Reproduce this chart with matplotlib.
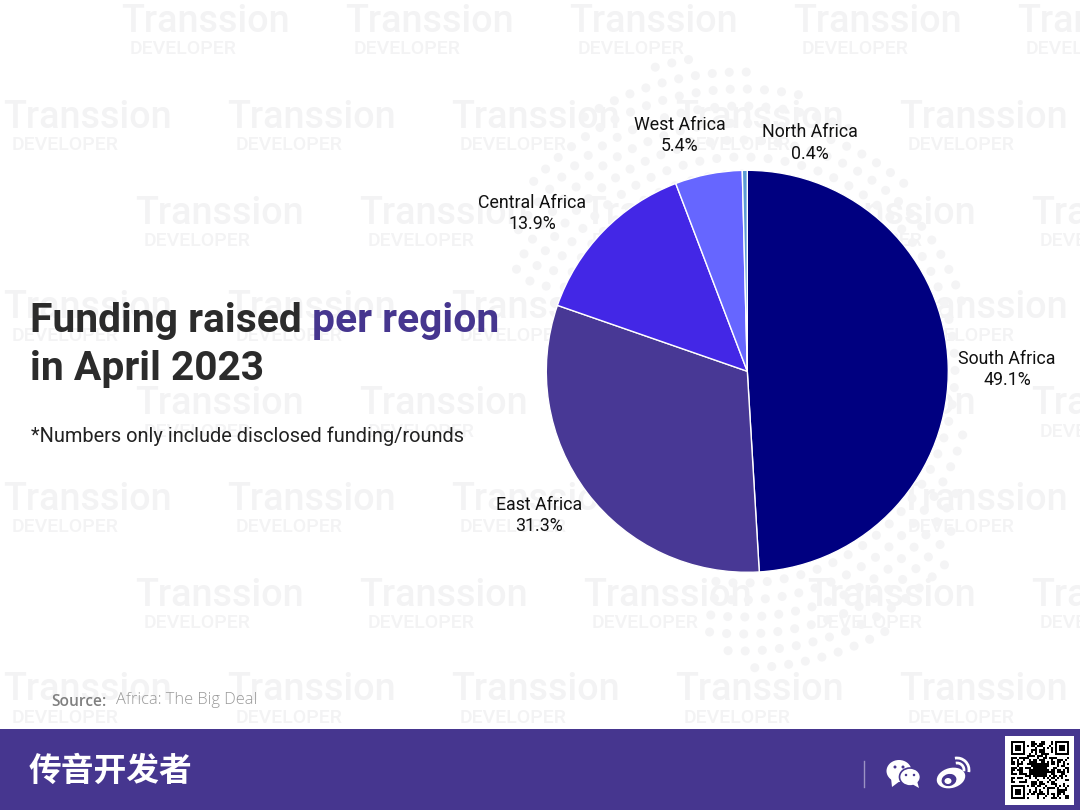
import math
import numpy as np
import matplotlib
matplotlib.use("Agg")
import matplotlib.pyplot as plt
from matplotlib.patches import Rectangle, Ellipse, Polygon, Arc

W, H = 1080, 810
regions = ["South Africa", "East Africa", "Central Africa", "West Africa", "North Africa"]
shares = [49.1, 31.3, 13.9, 5.4, 0.4]
colors = ["#000080", "#483895", "#4327E6", "#6666FF", "#5B9BD5"]
label_xy = [(1007, 368), (539, 514), (532, 212), (680, 134), (810, 141.5)]

purple = "#46368F"
fig = plt.figure(figsize=(W / 100, H / 100), dpi=100, facecolor="white")
bg = fig.add_axes([0, 0, 1, 1])
bg.set_xlim(0, W)
bg.set_ylim(H, 0)
bg.axis("off")

# watermark: grid of logos
wm_rows = [(21, 121), (117, 3), (213, 135), (308, 3), (404, 135), (499, 3), (595, 135), (690, 3)]
for y, x0 in wm_rows:
    for k in range(5):
        x = x0 + 224 * k
        bg.text(x, y, "Transsion", family="Roboto", fontsize=27.2, color="#f3f3f4",
                fontweight="medium", va="center", ha="left", clip_on=True, zorder=1)
        bg.text(x + 9, y + 28, "DEVELOPER", family="Roboto", fontsize=14, color="#f3f3f4",
                fontweight="medium", va="center", ha="left", clip_on=True, zorder=1)

# watermark: dotted swirl
cx, cy = 742, 370
edge_a = [-100, -90, -65, -47, -25, -10, 10, 40, 60, 80, 90, 100, 130, 150, 160]
edge_r = [270, 300, 300, 292, 240, 225, 228, 240, 258, 285, 300, 322, 292, 265, 240]
for i, r in enumerate(np.arange(196, 326, 17)):
    n = int(2 * math.pi * r / 17)
    for j in range(n):
        a = (360 * j / n + i * 4.5 + 180) % 360 - 180
        if -100 <= a <= 160 and r <= np.interp(a, edge_a, edge_r):
            bg.add_patch(Ellipse((cx + r * math.cos(math.radians(a)),
                                  cy - r * math.sin(math.radians(a))),
                                 9, 9, fc="#f4f4f5", ec="none", zorder=1))

# pie
R = 201
pcx, pcy = 747.3, 371.3
ax = fig.add_axes([(pcx - R) / W, 1 - (pcy + R) / H, 2 * R / W, 2 * R / H])
ax.patch.set_alpha(0)
ax.pie(shares, colors=colors, startangle=90, counterclock=False, radius=1,
       wedgeprops=dict(edgecolor="white", linewidth=1.0))
ax.set_xlim(-1, 1)
ax.set_ylim(-1, 1)

for name, val, (x, y) in zip(regions, shares, label_xy):
    bg.text(x, y + 1.5, f"{name}\n{val}%", family="Roboto", fontsize=12.8, color="#111111",
            ha="center", va="center", linespacing=1.28, zorder=3)

# title
tsize = 29.3
bg.text(30, 321.5, "Funding raised", family="Roboto", fontsize=tsize, fontweight="bold",
        color="#2b2b2b", va="center", ha="left", zorder=3)
bg.text(312, 321.5, "per region", family="Roboto", fontsize=tsize, fontweight="bold",
        color=purple, va="center", ha="left", zorder=3)
bg.text(30, 368.5, "in April 2023", family="Roboto", fontsize=tsize, fontweight="bold",
        color="#2b2b2b", va="center", ha="left", zorder=3)
bg.text(31, 436, "*Numbers only include disclosed funding/rounds", family="Roboto", fontsize=14.45,
        color="#222222", va="center", ha="left", zorder=3)

# source
bg.text(51, 702, "Source:", family="Open Sans", fontsize=11.2, color="#808080",
        fontweight="semibold", va="center", ha="left", zorder=3)
bg.text(116, 700.5, "Africa: The Big Deal", family="Open Sans", fontsize=11.8, color="#999999",
        fontweight="light", va="center", ha="left", zorder=3)

# footer
bg.add_patch(Rectangle((0, 729), W, 81, fc=purple, ec="none", zorder=4))
bg.text(29, 771, "传音开发者", family=["Noto Sans CJK SC", "DejaVu Sans"], fontsize=23.6, color="white",
        fontweight="bold", va="center", ha="left", zorder=5)
bg.plot([863.5, 863.5], [761, 787], color="#9c93c4", lw=1, zorder=5)

# WeChat icon
bg.add_patch(Ellipse((899, 771), 25, 22, fc="white", ec="none", zorder=5))
bg.add_patch(Polygon([(891, 778), (892, 787), (900, 781)], fc="white", ec="none", zorder=5))
bg.add_patch(Ellipse((910, 777), 21, 18, fc="white", ec=purple, lw=1.2, zorder=6))
bg.add_patch(Polygon([(912, 784), (919, 788), (917, 781)], fc="white", ec="none", zorder=6))
for x, y, r in [(895, 767, 3), (903, 767, 3), (906, 775, 2.5), (914, 775, 2.5)]:
    bg.add_patch(Ellipse((x, y), r, r, fc=purple, ec="none", zorder=7))

# Weibo icon
bg.add_patch(Ellipse((951, 778), 29, 20, angle=-15, fc="white", ec="none", zorder=5))
bg.add_patch(Ellipse((949, 780), 15, 12, angle=-15, fc=purple, ec="none", zorder=6))
bg.add_patch(Ellipse((948, 781), 7, 6, fc="white", ec="none", zorder=7))
bg.add_patch(Arc((957, 770), 14, 14, theta1=-100, theta2=10, color="white", lw=2, zorder=5))
bg.add_patch(Arc((957, 770), 24, 24, theta1=-100, theta2=10, color="white", lw=2, zorder=5))

# QR decoration
qx, qy, qs = 1005, 736, 69
bg.add_patch(Rectangle((qx, qy), qs, qs, fc="white", ec="none", zorder=5))
N, m = 29, 2.0
ox, oy = qx + 5.5, qy + 5.5
img = np.zeros((N, N))
for a in range(N):
    for b in range(N):
        img[b, a] = ((a * a * 7 + b * b * 13 + a * b * 5 + (a ^ b) * 3) % 5) < 2
def finder(i, j):
    img[max(j - 1, 0):j + 8, max(i - 1, 0):i + 8] = 0
    img[j:j + 7, i:i + 7] = 1
    img[j + 1:j + 6, i + 1:i + 6] = 0
    img[j + 2:j + 5, i + 2:i + 5] = 1
finder(0, 0); finder(N - 7, 0); finder(0, N - 7)
img[11:18, 11:18] = 1
bg.imshow(1 - img, cmap="gray", vmin=0, vmax=1, interpolation="nearest", aspect="auto",
          extent=(ox, ox + N * m, oy + N * m, oy), zorder=6)
bg.set_xlim(0, W)
bg.set_ylim(H, 0)

fig.savefig("out.png", dpi=100, facecolor="white")
